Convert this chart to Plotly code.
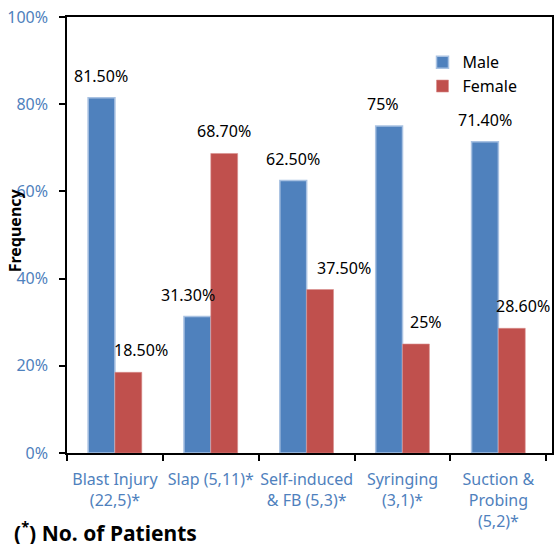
import plotly.graph_objects as go

categories = ["Blast Injury<br>(22,5)*", "Slap (5,11)*", "Self-induced<br>& FB (5,3)*",
              "Syringing<br>(3,1)*", "Suction &<br>Probing<br>(5,2)*"]
male = [81.5, 31.3, 62.5, 75.0, 71.4]
female = [18.5, 68.7, 37.5, 25.0, 28.6]
male_labels = ["81.50%", "31.30%", "62.50%", "75%", "71.40%"]
female_labels = ["18.50%", "68.70%", "37.50%", "25%", "28.60%"]
y_ticks = [0, 20, 40, 60, 80, 100]
y_tick_text = ["0%", "20%", "40%", "60%", "80%", "100%"]

# label horizontal nudges (style)
male_nudge = [0, -9, 0, -6, 0]
female_nudge = [12, 0, 24, 10, 11]

BLUE = "#4F81BD"
RED = "#C0504D"
FONT = "Noto Sans"

fig = go.Figure()
fig.add_trace(go.Bar(name="Male", x=categories, y=male,
                     marker=dict(color=BLUE, line=dict(color="#A9C2E2", width=1.5))))
fig.add_trace(go.Bar(name="Female", x=categories, y=female,
                     marker=dict(color=RED, line=dict(color="#D88F8D", width=0.6))))

bar_w = 27.2
for i, c in enumerate(categories):
    fig.add_annotation(x=c, y=male[i], xref="x", yref="y", text=male_labels[i],
                       showarrow=False, yanchor="middle", yshift=22,
                       xshift=-bar_w / 2 + male_nudge[i],
                       font=dict(family=FONT, size=16, color="black"))
    fig.add_annotation(x=c, y=female[i], xref="x", yref="y", text=female_labels[i],
                       showarrow=False, yanchor="middle", yshift=22,
                       xshift=bar_w / 2 + female_nudge[i],
                       font=dict(family=FONT, size=16, color="black"))

fig.add_annotation(x=-0.107, y=0.511, xref="paper", yref="paper", text="<b>Frequency</b>",
                   textangle=-90, showarrow=False, xanchor="center", yanchor="middle",
                   font=dict(family=FONT, size=16, color="black"))
fig.add_annotation(x=-0.113, y=-0.179, xref="paper", yref="paper",
                   text="<b>(<sup>*</sup>) No. of Patients</b>",
                   showarrow=False, xanchor="left", yanchor="middle",
                   font=dict(family=FONT, size=21, color="black"))

fig.update_layout(
    width=555, height=544,
    margin=dict(l=67, r=3, t=17, b=91),
    paper_bgcolor="white", plot_bgcolor="white",
    barmode="group", bargap=0.44, bargroupgap=0,
    font=dict(family=FONT, size=16, color="black"),
    showlegend=True,
    legend=dict(x=0.733, y=0.935, xanchor="left", yanchor="top",
                font=dict(family=FONT, size=16, color="black"),
                itemwidth=30, tracegroupgap=0, bgcolor="rgba(0,0,0,0)"),
    xaxis=dict(type="category", showline=True, linecolor="black", linewidth=1.5,
               mirror=True, ticks="outside", tickson="boundaries", ticklen=6,
               tickcolor="black", tickwidth=1.5, showgrid=False, tickangle=0,
               automargin=False, ticklabelstandoff=11,
               tickfont=dict(family=FONT, size=16, color=BLUE)),
    yaxis=dict(range=[0, 100], tickvals=y_ticks, ticktext=y_tick_text,
               showline=True, linecolor="black", linewidth=1.5, mirror=True,
               ticks="outside", ticklen=6, tickcolor="black", tickwidth=1.5,
               showgrid=False, zeroline=False, ticklabelstandoff=8,
               automargin=False,
               tickfont=dict(family=FONT, size=16, color=BLUE)),
)

fig.write_html(
    "out.html",
    config={"displayModeBar": False},
    post_script="document.body.style.margin='0';document.body.style.overflow='hidden';",
)
